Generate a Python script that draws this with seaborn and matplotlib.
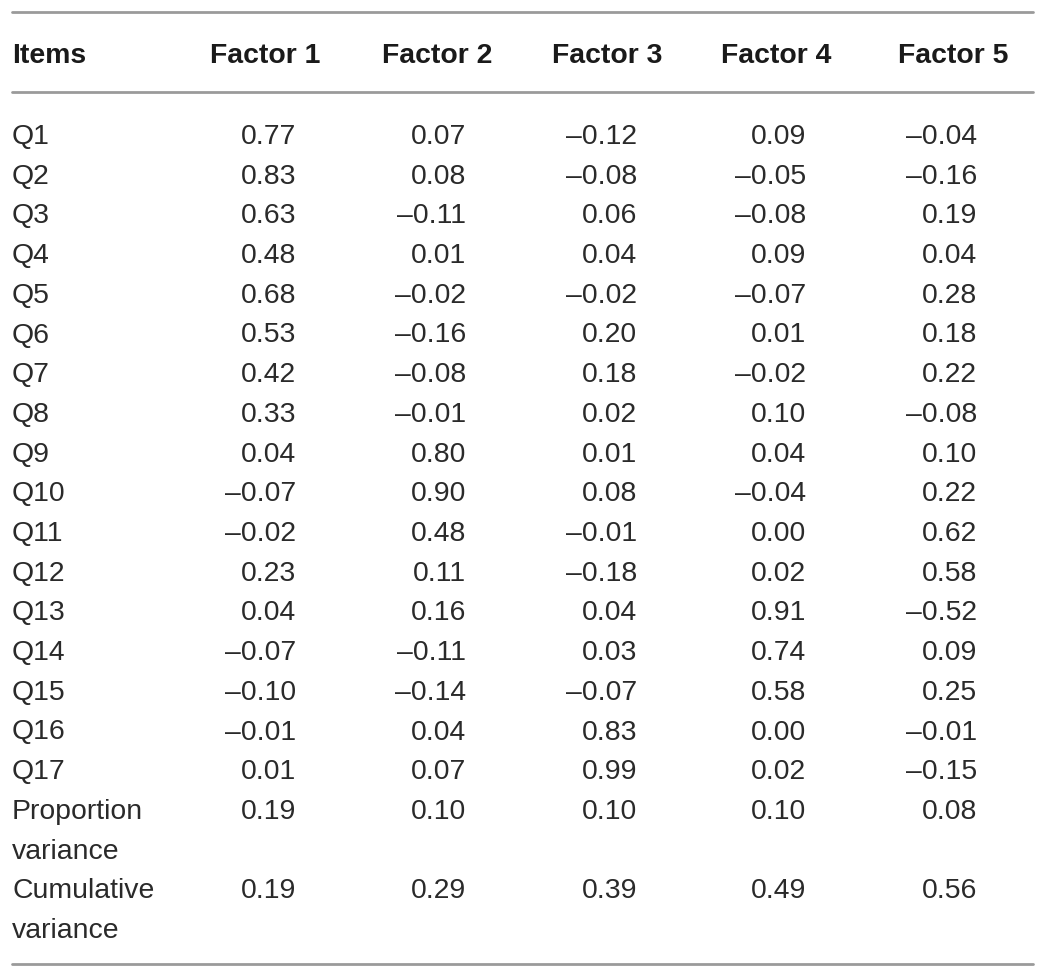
import matplotlib
matplotlib.use("Agg")
import matplotlib.pyplot as plt
import seaborn as sns

# table content
items = [f"Q{i}" for i in range(1, 18)]
factors = ["Factor 1", "Factor 2", "Factor 3", "Factor 4", "Factor 5"]
f1 = [0.77, 0.83, 0.63, 0.48, 0.68, 0.53, 0.42, 0.33, 0.04, -0.07, -0.02, 0.23, 0.04, -0.07, -0.10, -0.01, 0.01]
f2 = [0.07, 0.08, -0.11, 0.01, -0.02, -0.16, -0.08, -0.01, 0.80, 0.90, 0.48, 0.11, 0.16, -0.11, -0.14, 0.04, 0.07]
f3 = [-0.12, -0.08, 0.06, 0.04, -0.02, 0.20, 0.18, 0.02, 0.01, 0.08, -0.01, -0.18, 0.04, 0.03, -0.07, 0.83, 0.99]
f4 = [0.09, -0.05, -0.08, 0.09, -0.07, 0.01, -0.02, 0.10, 0.04, -0.04, 0.00, 0.02, 0.91, 0.74, 0.58, 0.00, 0.02]
f5 = [-0.04, -0.16, 0.19, 0.04, 0.28, 0.18, 0.22, -0.08, 0.10, 0.22, 0.62, 0.58, -0.52, 0.09, 0.25, -0.01, -0.15]
prop_var = [0.19, 0.10, 0.10, 0.10, 0.08]
cum_var = [0.19, 0.29, 0.39, 0.49, 0.56]
summary_labels = ["Proportion\nvariance", "Cumulative\nvariance"]

sns.set_theme(style="white")
plt.rcParams['font.family'] = ['Liberation Sans', 'DejaVu Sans']

W, H = 1044, 977
fig = plt.figure(figsize=(W / 100, H / 100), dpi=100)
ax = fig.add_axes([0, 0, 1, 1])
ax.set_xlim(0, W)
ax.set_ylim(H, 0)
ax.axis("off")

txt = "#2a2a2a"
fs = 20.4
line_kw = dict(color="#9a9a9a", lw=2)

# layout
left = 12
right = 1033
head_centers = [265.5, 437, 607.5, 776.5, 953]
num_right = [296, 466, 637, 806, 977]
row0 = 144
step = 39.7

def fmt(v):
    s = f"{abs(v):.2f}"
    return ("\u2013" + s) if v < 0 else s

for y in (12, 92, 964):
    ax.plot([left, right], [y, y], **line_kw)

ax.text(left, 63, "Items", ha="left", va="baseline", fontsize=fs, fontweight="bold", color="#1a1a1a")
for c, name in zip(head_centers, factors):
    ax.text(c, 63, name, ha="center", va="baseline", fontsize=fs, fontweight="bold", color="#1a1a1a")

cols = [f1, f2, f3, f4, f5]
for i, item in enumerate(items):
    y = row0 + i * step
    ax.text(left, y, item, ha="left", va="baseline", fontsize=fs, color=txt)
    for x, col in zip(num_right, cols):
        ax.text(x, y, fmt(col[i]), ha="right", va="baseline", fontsize=fs, color=txt)

for k, (label, vals) in enumerate(zip(summary_labels, [prop_var, cum_var])):
    y = row0 + (len(items) + 2 * k) * step
    first, second = label.split("\n")
    ax.text(left, y, first, ha="left", va="baseline", fontsize=fs, color=txt)
    ax.text(left, y + step, second, ha="left", va="baseline", fontsize=fs, color=txt)
    for x, v in zip(num_right, vals):
        ax.text(x, y, fmt(v), ha="right", va="baseline", fontsize=fs, color=txt)

fig.savefig("out.png", dpi=100)
